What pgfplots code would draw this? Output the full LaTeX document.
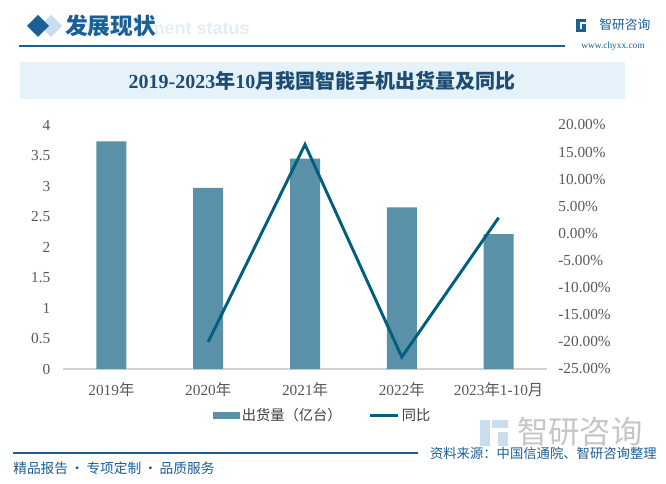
\documentclass[border=0pt]{standalone}
\usepackage{pgfplots}
\pgfplotsset{compat=1.18}
\usepackage{fontspec}
\setmainfont{Liberation Serif}
\newfontfamily\cjk{Noto Sans CJK SC}
\newfontfamily\ensans{Liberation Sans}
\definecolor{barc}{HTML}{5B90A9}
\definecolor{linec}{HTML}{005E7E}
\definecolor{navy}{HTML}{1A5F95}
\definecolor{band}{HTML}{E6F2FA}
\definecolor{ticktxt}{HTML}{595959}
\definecolor{titletxt}{HTML}{1D4D73}
\definecolor{lightdia}{HTML}{C9DEEC}
\definecolor{faint}{HTML}{E4EEF6}
\begin{document}
\begin{tikzpicture}
\path[fill=white,use as bounding box] (0,0) rectangle (499.5pt,362.25pt);
\begin{scope}[x=0.75pt,y=0.75pt]
% header
\node[anchor=east,inner sep=0pt,text=faint,font=\ensans\bfseries\fontsize{13.5}{14}\selectfont] at (250,453) {Development status};
\fill[lightdia] (51,483-15) -- (62,483-26) -- (51,483-37) -- (40,483-26) -- cycle;
\fill[navy] (38,483-15) -- (49,483-26) -- (38,483-37) -- (27,483-26) -- cycle;
\node[anchor=west,inner sep=0pt,text=navy,font=\cjk\bfseries\fontsize{17}{18}\selectfont] at (65,483-26) {发展现状};
\draw[navy,line width=1.1pt] (19,483-46) -- (565,483-46);
% logo
\fill[navy] (576,483-19) rectangle (580,483-32);
\fill[navy] (580,483-19) rectangle (586,483-22);
\fill[navy] (582,483-24) rectangle (586,483-32);
\fill[navy] (580,483-29) rectangle (582,483-32);
\node[anchor=west,inner sep=0pt,text=navy,font=\cjk\fontsize{9.6}{10}\selectfont] at (599,483-25) {智研咨询};
\node[anchor=center,inner sep=0pt,text=navy,font=\fontsize{7}{8}\selectfont] at (613,483-46) {www.chyxx.com};
% title band
\fill[band] (20,483-62) rectangle (625,483-99);
\node[anchor=center,inner sep=0pt,text=titletxt,font=\bfseries\fontsize{15}{16}\selectfont] at (322,483-81) {2019-2023{\cjk 年}10{\cjk 月我国智能手机出货量及同比}};
% bottom
\node[anchor=west,inner sep=0pt,text=gray!45,font=\cjk\fontsize{23.5}{25}\selectfont] at (517,483-432) {智研咨询};
\fill[lightdia] (480,483-420) rectangle (490,483-446);
\fill[lightdia] (492,483-420) rectangle (508,483-428);
\fill[lightdia] (498,483-432) rectangle (508,483-446);
\draw[navy,line width=1pt] (13,483-453) -- (418,483-453);
\node[anchor=west,inner sep=0pt,text=navy,font=\cjk\fontsize{10.3}{11}\selectfont] at (13,483-468) {精品报告\,·\,专项定制\,·\,品质服务};
\node[anchor=east,inner sep=0pt,text=navy,font=\cjk\fontsize{10}{11}\selectfont] at (657,483-453) {资料来源：中国信通院、智研咨询整理};
\end{scope}
\begin{axis}[
  at={(47.25pt,85.5pt)}, anchor=south west,
  scale only axis, width=363pt, height=183pt,
  xmin=-0.5, xmax=4.5, ymin=0, ymax=4,
  axis x line*=bottom, axis y line*=left,
  y axis line style={draw=none},
  x axis line style={draw=gray!35,line width=0.8pt},
  xtick={0,1,2,3,4},
  xticklabels={2019{\cjk 年},2020{\cjk 年},2021{\cjk 年},2022{\cjk 年},2023{\cjk 年}1-10{\cjk 月}},
  ytick={0,0.5,1,1.5,2,2.5,3,3.5,4},
  yticklabels={0,0.5,1,1.5,2,2.5,3,3.5,4},
  major tick length=0pt,
  tick label style={font=\fontsize{11.5}{12}\selectfont, text=ticktxt},
  yticklabel style={anchor=east, xshift=-6pt},
  xticklabel style={yshift=-7pt},
  ybar, bar width=22.5pt,
]
\addplot[fill=barc, draw=none] coordinates {(0,3.73) (1,2.97) (2,3.45) (3,2.65) (4,2.21)};
\end{axis}
\begin{axis}[
  at={(47.25pt,85.5pt)}, anchor=south west,
  scale only axis, width=363pt, height=183pt,
  xmin=-0.5, xmax=4.5, ymin=-25, ymax=20,
  axis y line*=right, hide x axis,
  y axis line style={draw=none},
  ytick={-25,-20,-15,-10,-5,0,5,10,15,20},
  yticklabels={-25.00\%,-20.00\%,-15.00\%,-10.00\%,-5.00\%,0.00\%,5.00\%,10.00\%,15.00\%,20.00\%},
  major tick length=0pt,
  tick label style={font=\fontsize{11.5}{12}\selectfont, text=ticktxt},
  yticklabel style={anchor=west, xshift=5pt},
  legend columns=2,
  legend style={at={(0.537,-0.189)}, anchor=center, draw=none, fill=none,
    font=\cjk\fontsize{10.7}{11}\selectfont, text=black!75,
    /tikz/every even column/.append style={column sep=18pt},
    inner sep=0pt},
]
\addlegendimage{legend image code/.code={\fill[barc] (0pt,-2.25pt) rectangle (19.5pt,2.25pt);}}
\addlegendentry{出货量（亿台）}
\addplot[linec, line width=2.2pt, legend image code/.code={\draw[linec,line width=2.2pt] (0pt,0pt) -- (21pt,0pt);}] coordinates {(1,-20.0) (2,16.4) (3,-22.8) (4,2.9)};
\addlegendentry{同比}
\end{axis}
\end{tikzpicture}
\end{document}
